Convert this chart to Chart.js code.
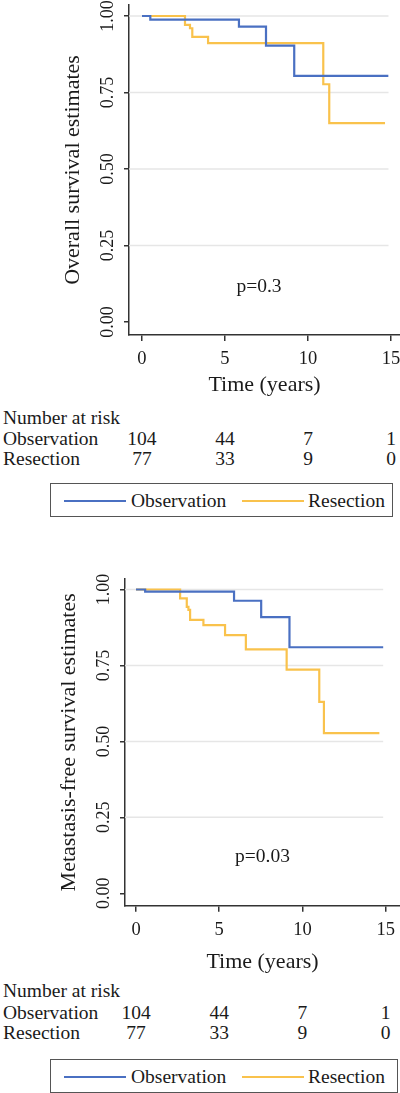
<!DOCTYPE html>
<html>
<head>
<meta charset="utf-8">
<script src="https://cdn.jsdelivr.net/npm/chart.js@4.4.1/dist/chart.umd.min.js"></script>
<style>
  html, body { margin: 0; padding: 0; background: #fff; }
  body { width: 400px; height: 1093px; overflow: hidden; position: relative;
         font-family: 'Liberation Serif', 'DejaVu Serif', serif; color: #1a1a1a; }
  canvas { position: absolute; left: 0; }
  .txt { position: absolute; white-space: nowrap; font-size: 19.5px; line-height: 19.5px; }
  .num { transform: translateX(-50%); }
  .legend { position: absolute; border: 1.5px solid #555; box-sizing: border-box; }
  .swatch { position: absolute; height: 2px; }
</style>
</head>
<body>
<canvas id="osChart" width="400" height="400" style="top:0px"></canvas>
<canvas id="mfsChart" width="400" height="417" style="top:560px"></canvas>

<script>
// ===== Data =====
const seriesNames = ['Observation', 'Resection'];
const seriesColors = ['#4a70c2', '#f9c24c'];

const xTicks = [0, 5, 10, 15];
const xTickLabels = ['0', '5', '10', '15'];
const yTicks = [0, 0.25, 0.5, 0.75, 1];
const yTickLabels = ['0.00', '0.25', '0.50', '0.75', '1.00'];
const yGridValues = [0.25, 0.5, 0.75, 1];

// Overall survival (years, KM estimate)
const osObsTime = [0, 0.5, 5.84, 7.47, 9.17, 14.84];
const osObsSurv = [1, 0.988, 0.965, 0.903, 0.804, 0.804];
const osResTime = [0, 2.59, 2.89, 3.03, 3.98, 10.92, 11.28, 14.64];
const osResSurv = [1, 0.971, 0.96, 0.932, 0.911, 0.777, 0.65, 0.65];

// Metastasis-free survival
const mfsObsTime = [0, 0.55, 5.89, 7.52, 9.22, 14.85];
const mfsObsSurv = [1, 0.993, 0.963, 0.909, 0.81, 0.81];
const mfsResTime = [0, 2.65, 3.05, 3.15, 3.25, 4.05, 5.35, 6.6, 9.05, 11.01, 11.29, 14.62];
const mfsResSurv = [1, 0.971, 0.943, 0.933, 0.9, 0.883, 0.85, 0.803, 0.736, 0.63, 0.527, 0.527];

// Number at risk at 0, 5, 10, 15 years
const riskObs = [104, 44, 7, 1];
const riskRes = [77, 33, 9, 0];

// ===== Styles =====
const FONT = "'Liberation Serif', 'DejaVu Serif', serif";
const TEXT = '#1a1a1a';
const AXIS = '#333';
const GRID = '#e6e6e6';

// ===== Plugins =====
const surv = {
  id: 'surv',
  beforeDatasetsDraw(chart, args, opts) {
    const { ctx, chartArea, scales: { x, y } } = chart;
    ctx.save();
    ctx.strokeStyle = GRID;
    ctx.lineWidth = 1.5;
    ctx.beginPath();
    yGridValues.forEach(v => {
      const py = y.getPixelForValue(v);
      ctx.moveTo(chartArea.left, py);
      ctx.lineTo(x.getPixelForValue(opts.gridEnd), py);
    });
    ctx.stroke();
    ctx.restore();
  },
  afterDraw(chart, args, opts) {
    const { ctx, scales: { x, y } } = chart;
    ctx.save();
    ctx.fillStyle = TEXT;
    ctx.font = '18px ' + FONT;
    ctx.textAlign = 'center';
    ctx.textBaseline = 'middle';
    yTicks.forEach((v, i) => {
      ctx.save();
      ctx.translate(y.right - opts.yLabelOffset, y.getPixelForValue(v));
      ctx.rotate(-Math.PI / 2);
      ctx.fillText(yTickLabels[i], 0, 0);
      ctx.restore();
    });
    ctx.font = '19.5px ' + FONT;
    ctx.fillText(opts.pText, x.getPixelForValue(opts.pX), y.getPixelForValue(opts.pY));
    ctx.restore();
  }
};

// ===== Chart =====
function makeChart(id, cfg) {
  const canvas = document.getElementById(id);
  const toPoints = (t, s) => t.map((v, i) => ({ x: v, y: s[i] }));
  return new Chart(canvas.getContext('2d'), {
    type: 'line',
    data: {
      datasets: [
        { label: seriesNames[0], data: toPoints(cfg.obsTime, cfg.obsSurv) },
        { label: seriesNames[1], data: toPoints(cfg.resTime, cfg.resSurv) }
      ].map((d, i) => ({
        ...d, borderColor: seriesColors[i], borderWidth: 2.2, pointRadius: 0,
        stepped: 'before', fill: false, tension: 0
      }))
    },
    options: {
      responsive: false,
      animation: false,
      devicePixelRatio: 1,
      layout: { padding: { top: cfg.areaTop, right: 0, left: 0, bottom: 0 } },
      plugins: {
        legend: { display: false },
        tooltip: { enabled: false },
        surv: { gridEnd: 14.85, yLabelOffset: 21, pText: cfg.pText, pX: cfg.pX, pY: cfg.pY }
      },
      scales: {
        x: {
          type: 'linear', min: cfg.xMin, max: cfg.xMax,
          afterBuildTicks: s => { s.ticks = xTicks.map(v => ({ value: v })); },
          afterFit: s => { s.height = canvas.height - cfg.areaBottom; s.paddingLeft = 0; s.paddingRight = 0; },
          ticks: {
            color: TEXT, font: { family: FONT, size: 18.5 }, padding: 7, maxRotation: 0,
            callback: v => xTickLabels[xTicks.indexOf(v)]
          },
          grid: { drawOnChartArea: false, color: AXIS, tickLength: 6, lineWidth: 1.5 },
          border: { display: true, color: AXIS, width: 1.5 },
          title: { display: true, text: 'Time (years)', color: TEXT,
                   font: { family: FONT, size: 22 }, padding: { top: 0, bottom: 2 } }
        },
        y: {
          type: 'linear', min: cfg.yMin, max: cfg.yMax,
          afterBuildTicks: s => { s.ticks = yTicks.map(v => ({ value: v })); },
          afterFit: s => { s.width = cfg.areaLeft; s.paddingTop = 0; s.paddingBottom = 0; },
          ticks: { display: false },
          grid: { drawOnChartArea: false, color: AXIS, tickLength: 5, lineWidth: 1.5 },
          border: { display: true, color: AXIS, width: 1.5 },
          title: { display: true, text: cfg.yTitle, color: TEXT,
                   font: { family: FONT, size: 22 }, padding: { top: cfg.yTitlePad, bottom: 0 } }
        }
      }
    },
    plugins: [surv]
  });
}

// ===== Risk table + legend (HTML) =====
function addText(str, left, baseline, cls) {
  const el = document.createElement('div');
  el.className = 'txt' + (cls ? ' ' + cls : '');
  el.textContent = str;
  el.style.left = left + 'px';
  el.style.top = (baseline - 16.3) + 'px';
  document.body.appendChild(el);
  return el;
}

function renderRisk(chart, top, lay) {
  const x = chart.scales.x;
  addText('Number at risk', 3, top + lay.headBase);
  [riskObs, riskRes].forEach((row, r) => {
    const base = top + lay.rowBase[r];
    addText(seriesNames[r], 3, base);
    row.forEach((n, i) => addText(String(n), x.getPixelForValue(xTicks[i]), base, 'num'));
  });

  const box = document.createElement('div');
  box.className = 'legend';
  Object.assign(box.style, { left: '50px', top: lay.legTop + 'px', width: lay.legWidth + 'px', height: '34px' });
  const items = [{ line: 13, w: 62, text: 80 }, { line: 191, w: 62, text: 257 }];
  items.forEach((it, i) => {
    const sw = document.createElement('div');
    sw.className = 'swatch';
    Object.assign(sw.style, { left: it.line + 'px', top: '15.5px', width: it.w + 'px', background: seriesColors[i] });
    box.appendChild(sw);
    const t = document.createElement('div');
    t.className = 'txt';
    t.textContent = seriesNames[i];
    Object.assign(t.style, { left: it.text + 'px', top: (23.3 - 16.3) + 'px' });
    box.appendChild(t);
  });
  document.body.appendChild(box);
}

// ===== Init =====
const osChart = makeChart('osChart', {
  obsTime: osObsTime, obsSurv: osObsSurv, resTime: osResTime, resSurv: osResSurv,
  areaTop: 5, areaLeft: 129, areaBottom: 335,
  xMin: -0.783, xMax: 15.542, yMin: -0.0425, yMax: 1.0359,
  yTitle: 'Overall survival estimates', yTitlePad: 60,
  pText: 'p=0.3', pX: 7.05, pY: 0.115
});

const mfsChart = makeChart('mfsChart', {
  obsTime: mfsObsTime, obsSurv: mfsObsSurv, resTime: mfsResTime, resSurv: mfsResSurv,
  areaTop: 19, areaLeft: 125, areaBottom: 345.7,
  xMin: -0.661, xMax: 15.86, yMin: -0.0408, yMax: 1.0346,
  yTitle: 'Metastasis-free survival estimates', yTitlePad: 56,
  pText: 'p=0.03', pX: 7.6, pY: 0.12
});

renderRisk(osChart, 0, { headBase: 424, rowBase: [445, 465], legTop: 483, legWidth: 343 });
renderRisk(mfsChart, 560, { headBase: 437.7, rowBase: [459, 479.3], legTop: 1059, legWidth: 348 });
</script>
</body>
</html>
